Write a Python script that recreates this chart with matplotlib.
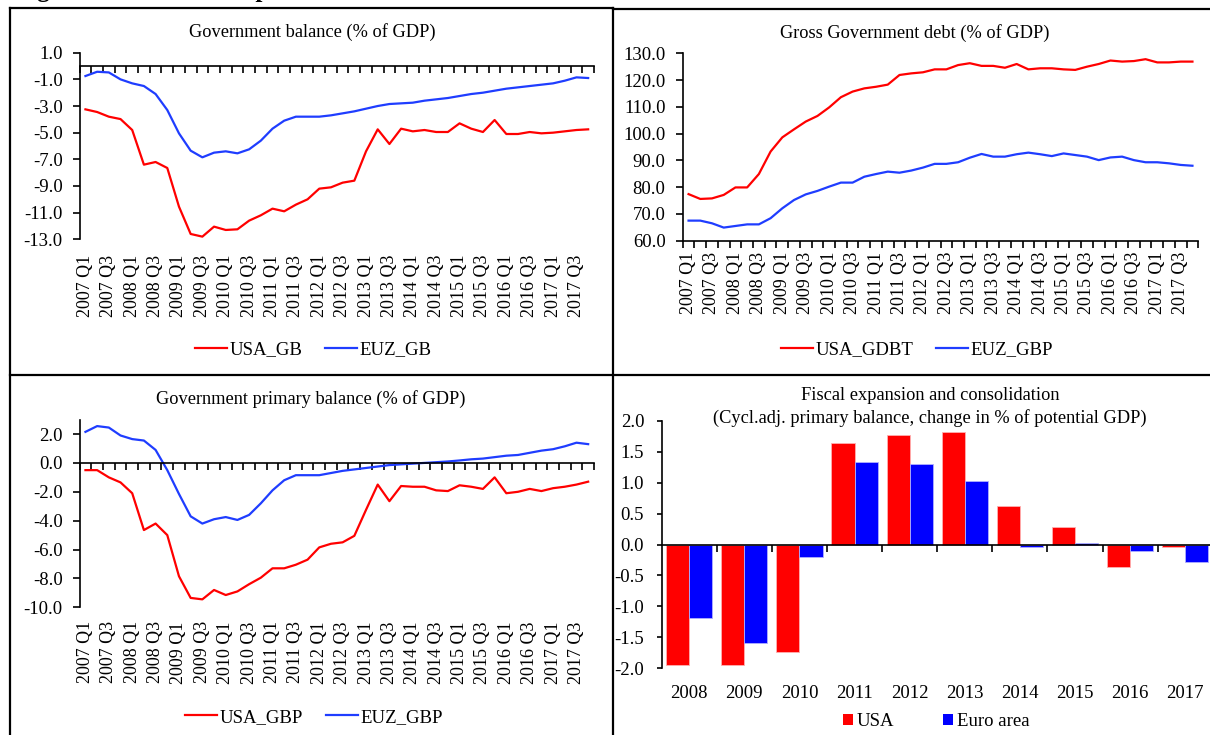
import numpy as np
import matplotlib
matplotlib.use("Agg")
import matplotlib.pyplot as plt
from matplotlib.lines import Line2D
from matplotlib.patches import Patch

# ---------------- data ----------------
quarters = [f"{y} Q{q}" for y in range(2007, 2018) for q in range(1, 5)]

usa_gb = [-3.25, -3.45, -3.8, -3.98, -4.8, -7.4, -7.2, -7.65, -10.55, -12.6,
          -12.8, -12.05, -12.3, -12.25, -11.6, -11.2, -10.7, -10.9, -10.4, -10.0,
          -9.2, -9.1, -8.75, -8.6, -6.4, -4.75, -5.85, -4.7, -4.9, -4.8,
          -4.95, -4.95, -4.3, -4.7, -4.95, -4.05, -5.1, -5.1, -4.95, -5.05,
          -5.0, -4.9, -4.8, -4.75]
euz_gb = [-0.75, -0.43, -0.48, -1.0, -1.3, -1.5, -2.1, -3.3, -5.05, -6.35,
          -6.85, -6.5, -6.4, -6.55, -6.25, -5.6, -4.7, -4.1, -3.8, -3.8,
          -3.8, -3.7, -3.55, -3.4, -3.2, -3.0, -2.85, -2.8, -2.75, -2.6,
          -2.5, -2.4, -2.25, -2.1, -2.0, -1.85, -1.7, -1.6, -1.5, -1.4,
          -1.3, -1.1, -0.85, -0.9]

usa_gdbt = [77.4, 75.6, 75.8, 77.1, 79.9, 79.9, 84.9, 93.3, 98.6, 101.6,
            104.5, 106.6, 109.8, 113.6, 115.7, 116.9, 117.5, 118.3, 121.9, 122.5,
            122.9, 124.0, 124.0, 125.6, 126.3, 125.3, 125.3, 124.6, 126.0, 124.0,
            124.4, 124.4, 124.0, 123.8, 125.0, 126.0, 127.3, 126.9, 127.1, 127.8,
            126.6, 126.6, 126.9, 126.9]
euz_debt = [67.5, 67.5, 66.5, 64.9, 65.5, 66.1, 66.1, 68.4, 72.1, 75.2,
            77.3, 78.6, 80.2, 81.7, 81.7, 83.9, 84.9, 85.8, 85.4, 86.2,
            87.3, 88.7, 88.7, 89.3, 91.0, 92.4, 91.4, 91.4, 92.3, 92.9,
            92.3, 91.6, 92.6, 92.0, 91.4, 90.1, 91.1, 91.4, 90.1, 89.3,
            89.3, 88.9, 88.3, 88.0]

usa_gbp = [-0.5, -0.5, -1.0, -1.35, -2.1, -4.65, -4.2, -5.0, -7.85, -9.35,
           -9.45, -8.8, -9.15, -8.9, -8.4, -7.95, -7.3, -7.3, -7.05, -6.7,
           -5.85, -5.6, -5.5, -5.05, -3.25, -1.5, -2.65, -1.6, -1.65, -1.65,
           -1.9, -1.95, -1.55, -1.65, -1.8, -1.0, -2.1, -2.0, -1.8, -1.95,
           -1.75, -1.65, -1.5, -1.3]
euz_gbp = [2.15, 2.55, 2.45, 1.9, 1.65, 1.55, 0.9, -0.5, -2.15, -3.7,
           -4.2, -3.9, -3.75, -3.95, -3.6, -2.8, -1.9, -1.2, -0.85, -0.85,
           -0.85, -0.7, -0.55, -0.45, -0.35, -0.25, -0.15, -0.1, -0.05, 0.0,
           0.05, 0.1, 0.17, 0.25, 0.3, 0.4, 0.5, 0.55, 0.7, 0.85,
           0.95, 1.15, 1.4, 1.3]

years = ["2008", "2009", "2010", "2011", "2012", "2013", "2014", "2015", "2016", "2017"]
usa_fiscal = [-1.95, -1.94, -1.73, 1.64, 1.77, 1.82, 0.62, 0.29, -0.37, -0.04]
euro_fiscal = [-1.19, -1.59, -0.2, 1.33, 1.3, 1.02, -0.04, 0.03, -0.11, -0.28]

# ---------------- style ----------------
plt.rcParams["font.family"] = ["Liberation Serif", "DejaVu Serif"]
plt.rcParams["axes.unicode_minus"] = False

RED = "#FF0000"
BLUE = "#1F3DFF"
W, H = 1210, 735
TICK_FS = 13.5
XLAB_FS = 13
TITLE_FS = 13.2
LEG_FS = 13.5
TICK_LEN = 4.8
YPAD = 7.5

fig = plt.figure(figsize=(W / 100, H / 100), dpi=100)


def px_axes(left, right, top, bottom):
    return [left / W, 1 - bottom / H, (right - left) / W, (bottom - top) / H]


def style_line_axes(ax, ylim, yticks, zero_axis, label_pad):
    x = np.arange(len(quarters))
    ax.set_xlim(-0.5, len(quarters) - 0.5)
    ax.set_ylim(*ylim)
    ax.set_yticks(yticks)
    ax.yaxis.set_major_formatter("{x:.1f}")
    for s in ("top", "right"):
        ax.spines[s].set_visible(False)
    ax.spines["left"].set_linewidth(1.2)
    ax.spines["bottom"].set_linewidth(1.2)
    ax.tick_params(axis="y", direction="out", length=TICK_LEN, width=1.2,
                   labelsize=TICK_FS, pad=YPAD)
    ax.set_xticks(np.arange(-0.5, len(quarters), 1))
    ax.tick_params(axis="x", direction="out", length=TICK_LEN, width=1.2,
                   labelbottom=False)
    if zero_axis:
        ax.spines["bottom"].set_position(("data", 0))
    sec = ax.secondary_xaxis("bottom")
    sec.set_xticks(x[::2], quarters[::2], rotation=90)
    sec.tick_params(length=0, pad=label_pad, labelsize=XLAB_FS)
    sec.spines["bottom"].set_visible(False)
    ax.patch.set_alpha(0)


x = np.arange(len(quarters))

# Panel 1: Government balance
ax1 = fig.add_axes(px_axes(79.6, 594, 52.7, 239.3))
ax1.plot(x, usa_gb, color=RED, lw=1.6)
ax1.plot(x, euz_gb, color=BLUE, lw=1.6)
style_line_axes(ax1, (-13, 1), np.arange(-13, 1.1, 2), True, 11)

# Panel 2: Gross debt
ax2 = fig.add_axes(px_axes(682.7, 1198.3, 53.3, 240.7))
ax2.plot(x, usa_gdbt, color=RED, lw=1.6)
ax2.plot(x, euz_debt, color=BLUE, lw=1.6)
style_line_axes(ax2, (60, 130), np.arange(60, 131, 10), False, 8)

# Panel 3: Primary balance
ax3 = fig.add_axes(px_axes(79.6, 594, 419.6, 607.3))
ax3.plot(x, usa_gbp, color=RED, lw=1.6)
ax3.plot(x, euz_gbp, color=BLUE, lw=1.6)
style_line_axes(ax3, (-10, 3), np.arange(-10, 2.1, 2), True, 10)

# Panel 4: Fiscal expansion bars
ax4 = fig.add_axes(px_axes(661.7, 1212.7, 420.7, 668.3))
xb = np.arange(len(years))
bw = 0.42
ax4.bar(xb - bw / 2, usa_fiscal, width=bw, color="#FF0000", edgecolor="#FFB0B0", linewidth=0.6)
ax4.bar(xb + bw / 2, euro_fiscal, width=bw, color="#0000FF", edgecolor="#B0B0FF", linewidth=0.6)
ax4.set_xlim(-0.5, len(years) - 0.5)
ax4.set_ylim(-2, 2)
ax4.set_yticks(np.arange(-2, 2.01, 0.5))
ax4.yaxis.set_major_formatter("{x:.1f}")
for s in ("top", "right"):
    ax4.spines[s].set_visible(False)
ax4.spines["left"].set_linewidth(1.2)
ax4.spines["bottom"].set_linewidth(1.2)
ax4.spines["bottom"].set_position(("data", 0))
ax4.tick_params(axis="y", direction="out", length=TICK_LEN * 0.75, width=1.2,
                labelsize=TICK_FS, pad=YPAD + 1.5)
ax4.set_xticks(np.arange(0.5, len(years) - 0.5, 1))
ax4.tick_params(axis="x", direction="out", length=TICK_LEN, width=1.2, labelbottom=False)
sec4 = ax4.secondary_xaxis("bottom")
sec4.set_xticks(xb, years)
sec4.tick_params(length=0, pad=12, labelsize=TICK_FS)
sec4.spines["bottom"].set_visible(False)
ax4.patch.set_alpha(0)

# ---------------- titles ----------------
fig.text(312 / W, 1 - 31.7 / H, "Government balance (% of GDP)", ha="center", va="center", fontsize=TITLE_FS)
fig.text(915 / W, 1 - 33.3 / H, "Gross Government debt (% of GDP)", ha="center", va="center", fontsize=TITLE_FS)
fig.text(311 / W, 1 - 399.3 / H, "Government primary balance (% of GDP)", ha="center", va="center", fontsize=TITLE_FS)
fig.text(930 / W, 1 - 396 / H, "Fiscal expansion and consolidation", ha="center", va="center", fontsize=TITLE_FS)
fig.text(930 / W, 1 - 418.3 / H, "(Cycl.adj. primary balance, change in % of potential GDP)",
         ha="center", va="center", fontsize=TITLE_FS)

# clipped figure caption at the very top
fig.text(15 / W, 1 + 2.6 / H, "Figure 1: Fiscal developments", ha="left", va="baseline",
         fontsize=18, fontweight="bold")

# ---------------- legends ----------------
def line_legend(cx, cy, labels):
    handles = [Line2D([], [], color=RED, lw=1.6), Line2D([], [], color=BLUE, lw=1.6)]
    fig.legend(handles, labels, loc="center", bbox_to_anchor=(cx / W, 1 - cy / H),
               bbox_transform=fig.transFigure, ncol=2, frameon=False, fontsize=LEG_FS,
               handlelength=1.7, handletextpad=0.15, columnspacing=1.2, borderpad=0)

line_legend(313.5, 350, ["USA_GB", "EUZ_GB"])
line_legend(917, 350, ["USA_GDBT", "EUZ_GBP"])
line_legend(314, 717.3, ["USA_GBP", "EUZ_GBP"])

bar_handles = [Patch(facecolor="#FF0000"), Patch(facecolor="#0000FF")]
fig.legend(bar_handles, ["USA", "Euro area"], loc="center", bbox_to_anchor=(936 / W, 1 - 721.7 / H),
           bbox_transform=fig.transFigure, ncol=2, frameon=False, fontsize=LEG_FS,
           handlelength=0.55, handleheight=0.55, handletextpad=0.2, columnspacing=2.6, borderpad=0)

# ---------------- panel borders ----------------
def fline(x0, x1, y0, y1, lw=1.6):
    fig.add_artist(Line2D([x0 / W, x1 / W], [1 - y0 / H, 1 - y1 / H], transform=fig.transFigure,
                          color="black", lw=lw))

fline(10, 10, 8, H)
fline(10, 613, 8, 8)
fline(613, W, 9, 9)
fline(613, 613, 8, H)
fline(10, W, 375, 375)

fig.savefig("out.png", dpi=100)
